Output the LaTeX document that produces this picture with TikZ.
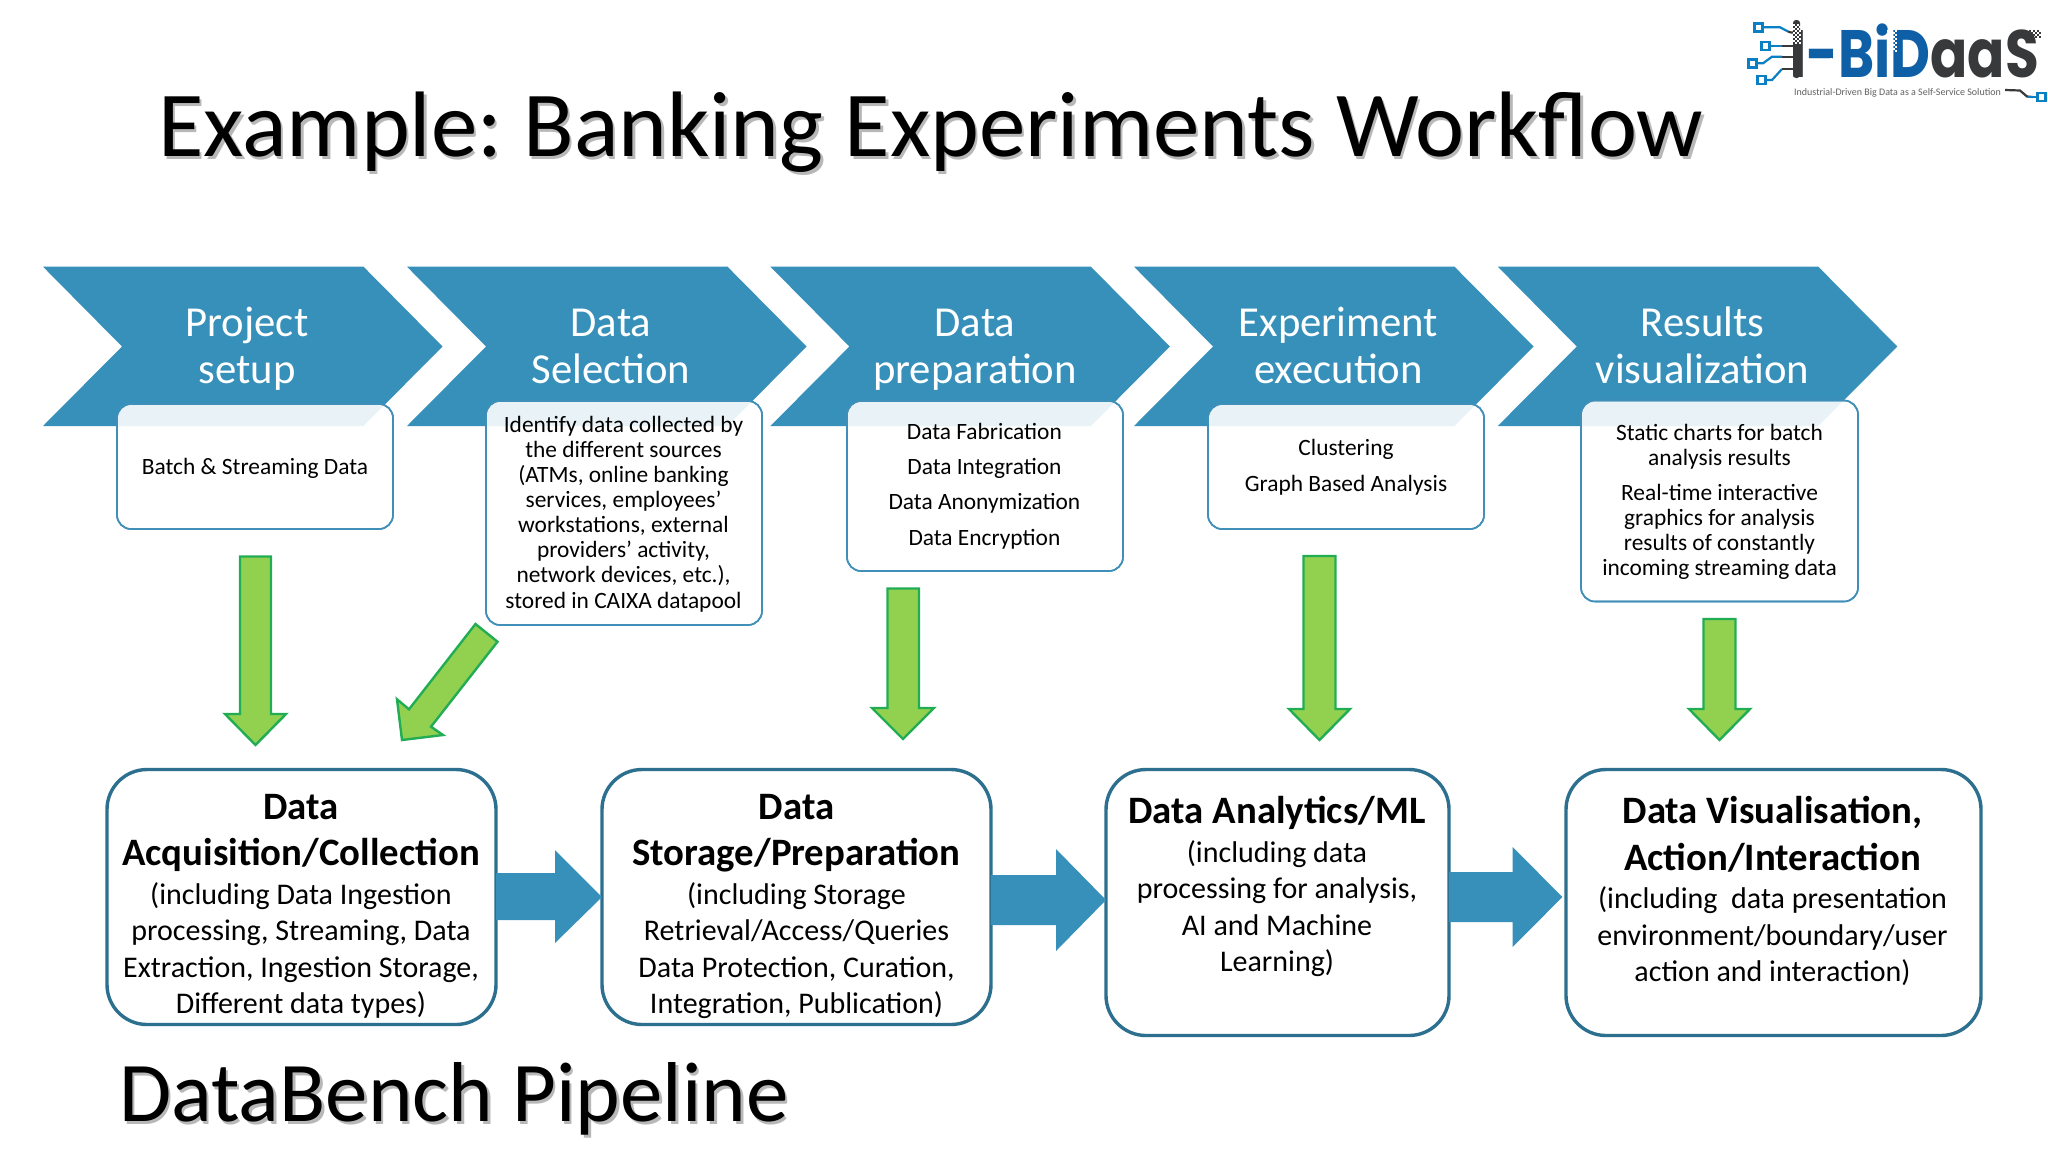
\documentclass[tikz,border=0pt]{standalone}
\usepackage{fontspec}
\setmainfont{Carlito}
\newfontfamily\logofont{Poppins}
\usetikzlibrary{calc}
\definecolor{chevblue}{HTML}{3690BA}
\definecolor{smallline}{HTML}{3F8FB8}
\definecolor{bigline}{HTML}{2C6F8E}
\definecolor{greenfill}{HTML}{92D050}
\definecolor{greenline}{HTML}{22AD55}
\definecolor{logoblue}{HTML}{0F5FA6}
\definecolor{logocyan}{HTML}{0B7FC4}
\definecolor{logodark}{HTML}{38393B}
\tikzset{
  chev/.style={fill=chevblue,draw=none},
  smallbox/.style={draw=smallline,line width=1.6pt,rounded corners=14pt,fill=white,rectangle,inner sep=0pt,outer sep=0pt},
  bigbox/.style={draw=bigline,line width=3.4pt,rounded corners=40pt,fill=white,rectangle,inner sep=0pt,outer sep=0pt},
  chevtext/.style={text=white,align=center,inner sep=0pt,anchor=base,font=\fontsize{42.7}{47}\selectfont},
  smalltext/.style={text=black,align=center,inner sep=0pt,anchor=base,font=\fontsize{23.4}{25.1}\selectfont},
  bigtext/.style={text=black,align=center,inner sep=0pt,anchor=base,font=\fontsize{30}{36.3}\selectfont},
  greenarrow/.style={fill=greenfill,draw=greenline,line width=2.4pt,line join=miter},
  bluearrow/.style={fill=chevblue,draw=none},
  titletext/.style={text=black,inner sep=0pt,anchor=base west},
  shadowtext/.style={text=black,opacity=.28,inner sep=0pt,anchor=base west},
  logosq/.style={draw=logocyan,line width=2.6pt,fill=white,minimum size=8pt,inner sep=0pt,rectangle},
  logotrace/.style={draw=logocyan,line width=2.2pt},
  logotraced/.style={draw=logodark,line width=2.2pt},
}
\newcommand{\boldline}[1]{{\bfseries\fontsize{38.8}{36.3}\selectfont #1}}
\newcommand{\chevshape}[1]{(#1,266.7) -- ++(320.5,0) -- ++(79,79.8) -- ++(-79,79.5) -- ++(-320.5,0) -- ++(79,-79.5) -- cycle}
\newcommand{\tinthere}[2]{%
  \begin{scope}
    \clip[rounded corners=14pt] (#1.north west) rectangle (#1.south east);
    \fill[chevblue,opacity=.11] \chevshape{#2};
  \end{scope}}
% checker of tiny squares: colour, x start, y start, x end, y end
\newcommand{\specks}[5]{%
  \pgfmathsetmacro{\xb}{#2}\pgfmathsetmacro{\yb}{#3}%
  \foreach \ix in {0,...,#4}{\foreach \iy in {0,...,#5}{%
    \pgfmathparse{int(mod(\ix+\iy,2))}%
    \ifnum\pgfmathresult=0
      \fill[#1] (\xb+2*\ix,\yb+2*\iy) rectangle ++(1.7,1.7);
    \fi}}}
\begin{document}
\frenchspacing
\begin{tikzpicture}[x=1pt,y=-1pt]
\useasboundingbox (0,0) rectangle (2048,1152);
\fill[white] (0,0) rectangle (2048,1152);

% title
\node[shadowtext,font=\fontsize{93}{93}\selectfont] (titleshadow) at (160.5,159) {Example: Banking Experiments Workflow};
\node[titletext,font=\fontsize{93}{93}\selectfont] (title) at (158,156.5) {Example: Banking Experiments Workflow};
\node[shadowtext,font=\fontsize{85}{85}\selectfont] (pipeshadow) at (121.5,1124) {DataBench Pipeline};
\node[titletext,font=\fontsize{85}{85}\selectfont] (pipe) at (119,1121.5) {DataBench Pipeline};

% chevrons
\fill[chev] \chevshape{43};
\fill[chev] \chevshape{407};
\fill[chev] \chevshape{770.4};
\fill[chev] \chevshape{1134};
\fill[chev] \chevshape{1497.8};
\node[chevtext] (c1) at (247,383.2) {Project\\setup};
\node[chevtext] (c2) at (611,383.2) {Data\\Selection};
\node[chevtext] (c3) at (975,383.2) {Data\\preparation};
\node[chevtext] (c4) at (1338.5,383.2) {Experiment\\execution};
\node[chevtext] (c5) at (1702.5,383.2) {Results\\visualization};

% small boxes
\node[smallbox,minimum width=276pt,minimum height=125pt,anchor=north west] (b1) at (117,404) {};
\node[smallbox,minimum width=276pt,minimum height=224pt,anchor=north west] (b2) at (486,401) {};
\node[smallbox,minimum width=276pt,minimum height=170pt,anchor=north west] (b3) at (847,401) {};
\node[smallbox,minimum width=276pt,minimum height=125pt,anchor=north west] (b4) at (1208,404) {};
\node[smallbox,minimum width=277pt,minimum height=201pt,anchor=north west] (b5) at (1581,400.5) {};
\tinthere{b1}{43}
\tinthere{b2}{407}
\tinthere{b3}{770.4}
\tinthere{b4}{1134}
\tinthere{b5}{1497.8}
\draw[smallline,line width=1.6pt,rounded corners=14pt] (b1.north west) rectangle (b1.south east);
\draw[smallline,line width=1.6pt,rounded corners=14pt] (b2.north west) rectangle (b2.south east);
\draw[smallline,line width=1.6pt,rounded corners=14pt] (b3.north west) rectangle (b3.south east);
\draw[smallline,line width=1.6pt,rounded corners=14pt] (b4.north west) rectangle (b4.south east);
\draw[smallline,line width=1.6pt,rounded corners=14pt] (b5.north west) rectangle (b5.south east);

\node[smalltext] (t1) at (255,474) {Batch \& Streaming Data};
\node[smalltext] (t2) at (623.5,608) {Identify data collected by\\the different sources\\(ATMs, online banking\\services, employees’\\workstations, external\\providers’ activity,\\network devices, etc.),\\stored in CAIXA datapool};
\node[smalltext] (t3) at (984.4,545) {Data Fabrication\\[10pt]Data Integration\\[10pt]Data Anonymization\\[10pt]Data Encryption};
\node[smalltext] (t4) at (1346,491) {Clustering\\[10.5pt]Graph Based Analysis};
\node[smalltext] (t5) at (1719.5,575.3) {Static charts for batch\\analysis results\\[9.2pt]Real-time interactive\\graphics for analysis\\results of constantly\\incoming streaming data};

% green arrows
\draw[greenarrow] (240,556.5) -- (271,556.5) -- (271,714) -- (286,714) -- (255.5,745) -- (225,714) -- (240,714) -- cycle;
\draw[greenarrow] (475.5,624) -- (497.5,641.7) -- (431,726.7) -- (443,735) -- (402,740) -- (397,699.3) -- (409,709.3) -- cycle;
\draw[greenarrow] (887.5,588.5) -- (919,588.5) -- (919,708) -- (934,708) -- (903,739) -- (872,708) -- (887.5,708) -- cycle;
\draw[greenarrow] (1303.5,556) -- (1335.5,556) -- (1335.5,709) -- (1350,709) -- (1319.5,740) -- (1289,709) -- (1303.5,709) -- cycle;
\draw[greenarrow] (1703.5,619) -- (1735.5,619) -- (1735.5,709) -- (1750,709) -- (1719.5,740) -- (1689,709) -- (1703.5,709) -- cycle;

% big boxes
\node[bigbox,minimum width=389pt,minimum height=255pt,anchor=north west] (A) at (107,769.5) {};
\node[bigbox,minimum width=389pt,minimum height=255pt,anchor=north west] (B) at (602,769.5) {};
\node[bigbox,minimum width=343pt,minimum height=266pt,anchor=north west] (C) at (1106,769.5) {};
\node[bigbox,minimum width=415pt,minimum height=266pt,anchor=north west] (D) at (1566,769.5) {};

\node[bigtext] (At) at (301,1013.3) {\boldline{Data}\\[9.7pt]\boldline{Acquisition/Collection}\\[2.7pt](including Data Ingestion\\processing, Streaming, Data\\Extraction, Ingestion Storage,\\Different data types)};
\node[bigtext] (Bt) at (796.5,1013.3) {\boldline{Data}\\[9.7pt]\boldline{Storage/Preparation}\\[2.7pt](including Storage\\Retrieval/Access/Queries\\Data Protection, Curation,\\Integration, Publication)};
\node[bigtext] (Ct) at (1277,971.3) {\boldline{Data Analytics/ML}\\[2.6pt](including data\\processing for analysis,\\AI and Machine\\Learning)};
\node[bigtext] (Dt) at (1772.5,981.3) {\boldline{Data Visualisation,}\\[10.2pt]\boldline{Action/Interaction}\\[2pt](including\ \ data presentation\\environment/boundary/user\\action and interaction)};

% blue block arrows between the big boxes
\fill[bluearrow] (A.east |- 0,873) -- (555,873) -- (555,850) -- (B.west |- 0,897) -- (555,943) -- (555,920) -- (A.east |- 0,920) -- cycle;
\fill[bluearrow] (B.east |- 0,875) -- (1056,875) -- (1056,849) -- (C.west |- 0,900) -- (1056,951) -- (1056,925) -- (B.east |- 0,925) -- cycle;
\coordinate (dtip) at (1562.4,897);
\fill[bluearrow] (C.east |- 0,872) -- (1512.6,872) -- (1512.6,847) -- (dtip) -- (1512.6,947) -- (1512.6,922) -- (C.east |- 0,922) -- cycle;

% logo
\node[logosq] (s1) at (1758.3,27.3) {};
\node[logosq] (s2) at (1765.7,46) {};
\node[logosq] (s3) at (1752.3,63.3) {};
\node[logosq] (s4) at (1761.7,80) {};
\node[logosq] (s5) at (2041.5,97) {};
\draw[logotrace] (s1) -- (1780,27.3) -- (1788,31.5);
\draw[logotraced] (1788,31.5) -- (1791,32.5) -- (1796,32.5);
\draw[logotrace] (s2) -- (1782,46);
\draw[logotraced] (1782,46) -- (1796,46);
\draw[logotrace] (s3) -- (1763,63.3) -- (1772,56.7) -- (1782,56.7);
\draw[logotraced] (1782,56.7) -- (1796,56.7);
\draw[logotrace] (s4) -- (1772,80) -- (1782,69);
\draw[logotraced] (1782,69) -- (1796,69);
\draw[logotraced] (2005,90) -- (2020,90.5) -- (2027,96.5) -- (2033,97);
\draw[logotrace] (2028,97) -- (s5);
\fill[logodark,rounded corners=3pt] (1793,20) rectangle (1800,78);
\node[inner sep=0pt,anchor=base west,xscale=.82,text depth=0pt,font=\logofont\bfseries\fontsize{67}{67}\selectfont] (logo) at (1790,77) {\textcolor{logodark}{I}\textcolor{logoblue}{-BiD}\textcolor{logodark}{aaS}};
\node[inner sep=0pt,anchor=base west,text=logodark!80,text height=6pt,font=\fontsize{10}{10}\selectfont] (logotag) at (1794,95) {Industrial-Driven Big Data as a Self-Service Solution};
\specks{white}{1793}{24}{3}{9}
\specks{white}{1830}{58}{4}{9}
\specks{white}{1887}{30}{4}{10}
\specks{logodark}{2017}{30}{11}{3}
\end{tikzpicture}
\end{document}
